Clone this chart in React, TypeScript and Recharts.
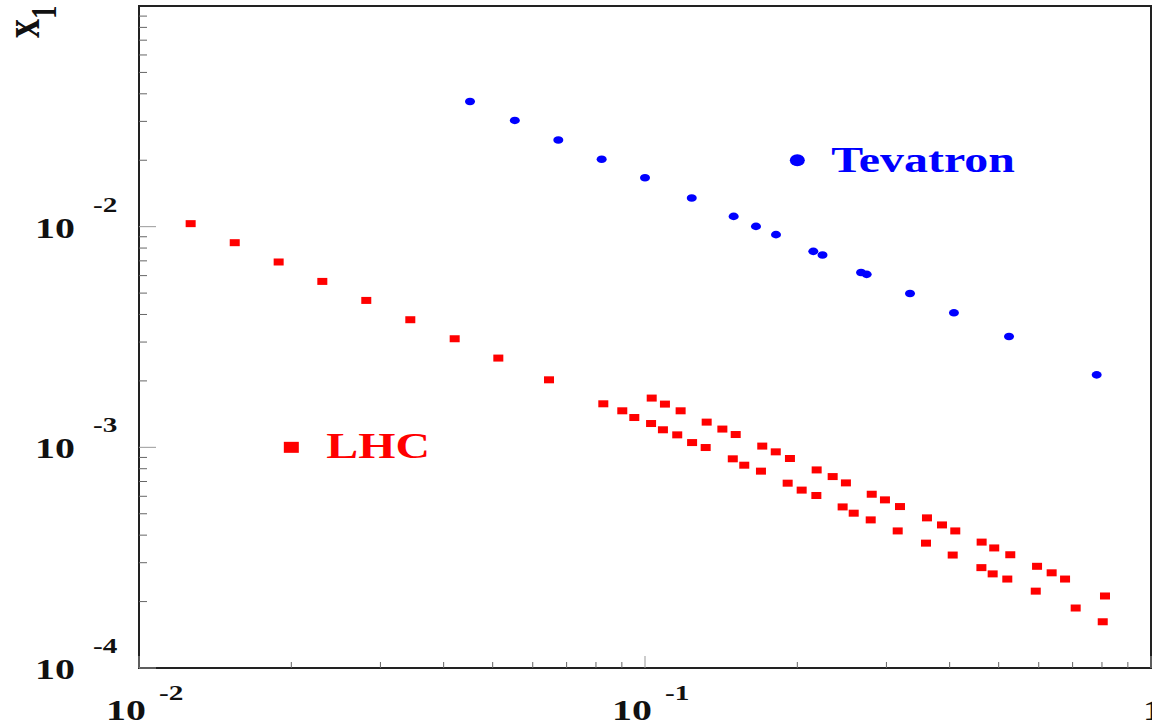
import React from 'react';
import { ScatterChart, Scatter, XAxis, YAxis, ReferenceArea } from 'recharts';

// ---- data ----
const tevatronX = [0.0451, 0.0553, 0.0674, 0.0821, 0.1, 0.1237, 0.1497, 0.1657, 0.1815, 0.2151, 0.2243, 0.2673, 0.2742, 0.334, 0.4079, 0.5241, 0.781];
const tevatronY = [0.0369, 0.0303, 0.0247, 0.0202, 0.01667, 0.01349, 0.01113, 0.01003, 0.0092, 0.00773, 0.00744, 0.0062, 0.00608, 0.00498, 0.00407, 0.00318, 0.00213];

const lhcX = [
  0.01265, 0.01546, 0.01888, 0.02303, 0.02813, 0.03437, 0.04206, 0.0513, 0.06461, 0.08272,
  0.09018, 0.09525, 0.1031, 0.1095, 0.1176, 0.1028, 0.1085, 0.1158, 0.1239, 0.1318,
  0.1324, 0.1422, 0.1511, 0.1491, 0.1571, 0.1695, 0.1705, 0.1813, 0.1934, 0.2184,
  0.2349, 0.2495, 0.1914, 0.204, 0.2181, 0.2458, 0.2585, 0.2806, 0.298, 0.3191,
  0.2793, 0.3158, 0.3608, 0.3863, 0.4104, 0.3592, 0.4056, 0.4627, 0.49, 0.5271,
  0.4622, 0.4865, 0.52, 0.5954, 0.6363, 0.6763, 0.5919, 0.7098, 0.8111, 0.8028,
];
const lhcY = [
  0.01032, 0.008461, 0.006917, 0.005648, 0.004632, 0.003787, 0.003105, 0.002538, 0.002023, 0.001575,
  0.001464, 0.001365, 0.001672, 0.00157, 0.001464, 0.001282, 0.001201, 0.001139, 0.001051, 0.000998,
  0.001301, 0.00121, 0.001143, 0.000887, 0.00083, 0.00078, 0.001013, 0.000954, 0.00089, 0.00079,
  0.000737, 0.00069, 0.000688, 0.00064, 0.000605, 0.000537, 0.000503, 0.000613, 0.000578, 0.000539,
  0.000469, 0.000418, 0.000479, 0.000445, 0.000418, 0.000368, 0.000325, 0.000372, 0.00035, 0.000326,
  0.000285, 0.000267, 0.000253, 0.000289, 0.00027, 0.000253, 0.000223, 0.000187, 0.000212, 0.000162,
];

const legendNames = ['Tevatron', 'LHC'];
const legendX = [0.2, 0.02];
const legendY = [0.02, 0.001];

const xMajorTicks = [0.01, 0.1, 1];
const xTickBase = ['10', '10', '1'];
const xTickExp = ['-2', '-1', ''];
const xMinorTicks = [0.02, 0.03, 0.04, 0.05, 0.06, 0.07, 0.08, 0.09, 0.2, 0.3, 0.4, 0.5, 0.6, 0.7, 0.8, 0.9];

const yMajorTicks = [0.0001, 0.001, 0.01];
const yTickBase = ['10', '10', '10'];
const yTickExp = ['-4', '-3', '-2'];
const yMinorTicks = [
  0.0002, 0.0003, 0.0004, 0.0005, 0.0006, 0.0007, 0.0008, 0.0009,
  0.002, 0.003, 0.004, 0.005, 0.006, 0.007, 0.008, 0.009,
  0.02, 0.03, 0.04, 0.05, 0.06, 0.07, 0.08, 0.09,
];

const yTitle = 'x';
const yTitleSub = '1';

const tevatronData = tevatronX.map((x, i) => ({ x, y: tevatronY[i] }));
const lhcData = lhcX.map((x, i) => ({ x, y: lhcY[i] }));
const tevLegend = [{ x: legendX[0], y: legendY[0], name: legendNames[0] }];
const lhcLegend = [{ x: legendX[1], y: legendY[1], name: legendNames[1] }];

const xAllTicks = [...xMajorTicks, ...xMinorTicks].sort((a, b) => a - b);
const yAllTicks = [...yMajorTicks, ...yMinorTicks].sort((a, b) => a - b);

// ---- styling ----
const SX = 1.33;
const FONT = '"Liberation Serif", "Times New Roman", serif';
const BLUE = '#0000ff';
const RED = '#ff0000';
const AXIS = '#222';

const STxt = ({ x, y, size, fill = '#111', children }: any) => (
  <text
    transform={`translate(${x},${y}) scale(${SX},1)`}
    fontSize={size}
    fontFamily={FONT}
    fontWeight="bold"
    fill={fill}
    textAnchor="start"
  >
    {children}
  </text>
);

const findMajor = (list: number[], v: number) =>
  list.findIndex((t) => Math.abs(Math.log10(t) - Math.log10(v)) < 1e-6);

const XTick = (props: any) => {
  const { x, y, payload } = props;
  const i = findMajor(xMajorTicks, payload.value);
  const major = i >= 0;
  return (
    <g>
      <line x1={x} x2={x} y1={y} y2={y - (major ? 12 : 6)} stroke={major ? '#999' : '#666'} strokeWidth={1} />
      {major && (
        xTickExp[i] ? (
          <>
            <STxt x={x - 33} y={y + 52} size={30}>{xTickBase[i]}</STxt>
            <STxt x={x + 20} y={y + 32} size={22}>{xTickExp[i]}</STxt>
          </>
        ) : (
          <STxt x={x - 8} y={y + 52} size={30}>{xTickBase[i]}</STxt>
        )
      )}
    </g>
  );
};

const YTick = (props: any) => {
  const { x, y, payload } = props;
  const i = findMajor(yMajorTicks, payload.value);
  const major = i >= 0;
  return (
    <g>
      <line x1={x} x2={x + (major ? 17 : 8)} y1={y} y2={y} stroke={major ? '#999' : '#666'} strokeWidth={1} />
      {major && (
        <>
          <STxt x={x - 104} y={y + 11} size={30}>{yTickBase[i]}</STxt>
          <STxt x={x - 46} y={y - 15} size={22}>{yTickExp[i]}</STxt>
        </>
      )}
    </g>
  );
};

const YTitle = (props: any) => {
  const vb = props.viewBox || { x: 0, y: 6 };
  const tx = (vb.x || 0) + 39;
  const ty = (vb.y || 6) + 32;
  return (
    <text
      transform={`translate(${tx},${ty}) scale(${SX},1) rotate(-90)`}
      fontSize={38}
      fontFamily={FONT}
      fontWeight="bold"
      fill="#111"
      textAnchor="start"
    >
      {yTitle}
      <tspan fontSize={27} dy={13}>{yTitleSub}</tspan>
    </text>
  );
};

const TevPoint = (p: any) => <ellipse cx={p.cx} cy={p.cy} rx={5} ry={3.8} fill={BLUE} />;
const LhcPoint = (p: any) => <rect x={p.cx - 5} y={p.cy - 3.5} width={10} height={7} fill={RED} />;

const TevLegendShape = (p: any) => (
  <g>
    <ellipse cx={p.cx} cy={p.cy} rx={7.5} ry={6} fill={BLUE} />
    <STxt x={p.cx + 34} y={p.cy + 12} size={36} fill={BLUE}>{p.payload?.name ?? p.name}</STxt>
  </g>
);
const LhcLegendShape = (p: any) => (
  <g>
    <rect x={p.cx - 7.5} y={p.cy - 5.5} width={15} height={11} fill={RED} />
    <STxt x={p.cx + 35} y={p.cy + 11} size={36} fill={RED}>{p.payload?.name ?? p.name}</STxt>
  </g>
);

export default function App() {
  return (
    <div style={{ position: 'absolute', left: 0, top: 0, width: 1152, height: 726, background: '#fff' }}>
      <ScatterChart width={1152} height={726} margin={{ top: 6, right: 1, bottom: 0, left: 0 }}>
        <XAxis
          type="number"
          dataKey="x"
          scale="log"
          domain={[0.01, 1]}
          allowDataOverflow
          ticks={xAllTicks}
          interval={0}
          height={58}
          tickSize={0}
          tickMargin={0}
          tickLine={false}
          axisLine={{ stroke: AXIS, strokeWidth: 2 }}
          tick={(p: any) => <XTick {...p} />}
        />
        <YAxis
          type="number"
          dataKey="y"
          scale="log"
          domain={[0.0001, 0.1]}
          allowDataOverflow
          ticks={yAllTicks}
          interval={0}
          width={139}
          tickSize={0}
          tickMargin={0}
          tickLine={false}
          axisLine={{ stroke: AXIS, strokeWidth: 2 }}
          tick={(p: any) => <YTick {...p} />}
          label={{ content: (p: any) => <YTitle {...p} /> }}
        />
        <ReferenceArea x1={0.01} x2={1} y1={0.0001} y2={0.1} fill="none" fillOpacity={0} stroke={AXIS} strokeWidth={2} ifOverflow="visible" />
        <Scatter data={tevatronData} shape={(p: any) => <TevPoint {...p} />} isAnimationActive={false} />
        <Scatter data={lhcData} shape={(p: any) => <LhcPoint {...p} />} isAnimationActive={false} />
        <Scatter data={tevLegend} shape={(p: any) => <TevLegendShape {...p} />} isAnimationActive={false} />
        <Scatter data={lhcLegend} shape={(p: any) => <LhcLegendShape {...p} />} isAnimationActive={false} />
      </ScatterChart>
    </div>
  );
}
